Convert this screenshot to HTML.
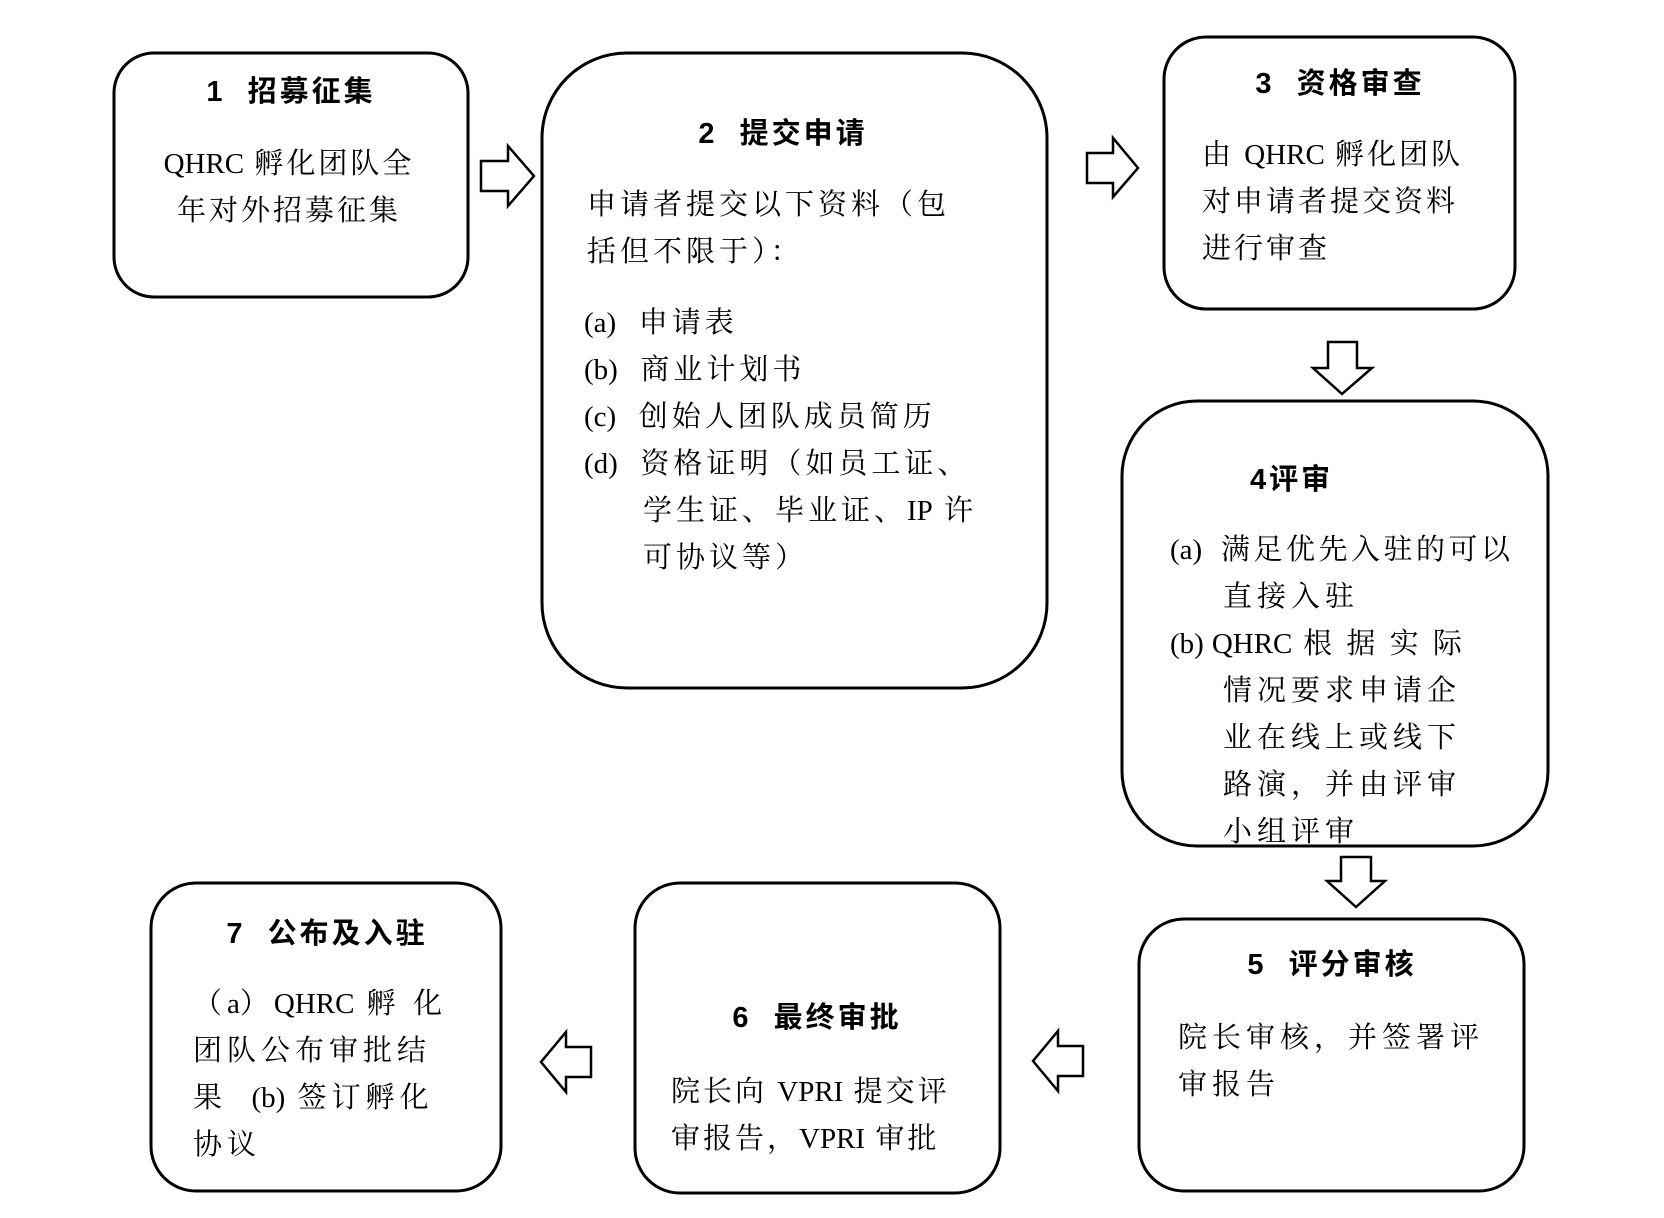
<!DOCTYPE html>
<html><head><meta charset="utf-8">
<style>
html,body{margin:0;padding:0;background:#fff;}
body{width:1664px;height:1218px;position:relative;overflow:hidden;}
svg{position:absolute;left:0;top:0;}
.t{position:absolute;white-space:pre;font-family:"Liberation Serif","Noto Serif CJK SC",serif;font-size:29px;line-height:47px;color:#000;letter-spacing:4px;}
.h{position:absolute;white-space:pre;font-family:"Liberation Sans","Noto Sans CJK SC",sans-serif;font-weight:bold;font-size:29px;line-height:40px;color:#000;letter-spacing:3px;}
.c{transform:translateX(-50%);text-align:center;}
.l{letter-spacing:0;}
</style></head><body>
<svg width="1664" height="1218" viewBox="0 0 1664 1218">
<g fill="#fff" stroke="#000" stroke-width="3">
<rect x="114" y="53" width="354" height="244" rx="40"/>
<rect x="542" y="53" width="505" height="635" rx="85"/>
<rect x="1164" y="37" width="351" height="272" rx="42"/>
<rect x="1122" y="401" width="426" height="445" rx="75"/>
<rect x="1139" y="919" width="385" height="272" rx="45"/>
<rect x="635" y="883" width="365" height="310" rx="45"/>
<rect x="151" y="883" width="350" height="308" rx="45"/>
<g stroke-width="2.5" stroke-linejoin="miter">
<polygon points="481,161 508,161 508,146 534,176 508,206 508,191 481,191"/>
<polygon points="1087,153 1113,153 1113,138 1138,168 1113,197 1113,183 1087,183"/>
<polygon points="1328,342 1357,342 1357,368 1372,368 1342,394 1313,368 1328,368"/>
<polygon points="1341,857 1371,857 1371,881 1385,881 1356,907 1327,881 1341,881"/>
<polygon points="1083,1046 1058,1046 1058,1031 1033,1061 1058,1091 1058,1076 1083,1076"/>
<polygon points="591,1047 566,1047 566,1032 541,1062 566,1092 566,1077 591,1077"/>
</g></g></svg>

<div class="h c" style="left:291px;top:72px;">1  招募征集</div>
<div class="t c" style="left:289px;top:141px;letter-spacing:3px;"><span class="l">QHRC</span> 孵化团队全
年对外招募征集</div>

<div class="h c" style="left:783px;top:114px;">2  提交申请</div>
<div class="t" style="left:587px;top:182px;">申请者提交以下资料（包
括但不限于）：</div>
<div class="t" style="left:584px;top:300px;"><span class="l">(a)</span>  申请表
<span class="l">(b)</span>  商业计划书
<span class="l">(c)</span>  创始人团队成员简历
<span class="l">(d)</span>  资格证明（如员工证、
</div>
<div class="t" style="left:643px;top:488px;">学生证、毕业证、<span class="l">IP</span> 许
可协议等）</div>

<div class="h c" style="left:1340px;top:64px;">3  资格审查</div>
<div class="t" style="left:1202px;top:132px;letter-spacing:3px;">由 <span class="l">QHRC</span> 孵化团队
对申请者提交资料
进行审查</div>

<div class="h" style="left:1250px;top:460px;">4评审</div>
<div class="t" style="left:1170px;top:527px;letter-spacing:3.5px;"><span class="l" style="margin-right:8px">(a)</span> 满足优先入驻的可以</div>
<div class="t" style="left:1170px;top:621px;letter-spacing:3.5px;"><span class="l" style="margin-right:8px">(b)</span><span class="l">QHRC</span> 根 据 实 际</div>
<div class="t" style="left:1223px;top:574px;letter-spacing:5px;">直接入驻

情况要求申请企
业在线上或线下
路演，并由评审
小组评审</div>

<div class="h c" style="left:1332px;top:945px;">5  评分审核</div>
<div class="t" style="left:1178px;top:1015px;letter-spacing:5px;">院长审核，并签署评
审报告</div>

<div class="h c" style="left:817px;top:998px;">6  最终审批</div>
<div class="t" style="left:671px;top:1069px;letter-spacing:3px;">院长向 <span class="l">VPRI</span> 提交评
审报告，<span class="l">VPRI</span> 审批</div>

<div class="h c" style="left:327px;top:914px;">7  公布及入驻</div>
<div class="t" style="left:193px;top:981px;letter-spacing:5px;">（<span class="l">a</span>）<span class="l">QHRC</span> 孵 化
团队公布审批结
果  <span class="l">(b)</span> 签订孵化
协议</div>
</body></html>
